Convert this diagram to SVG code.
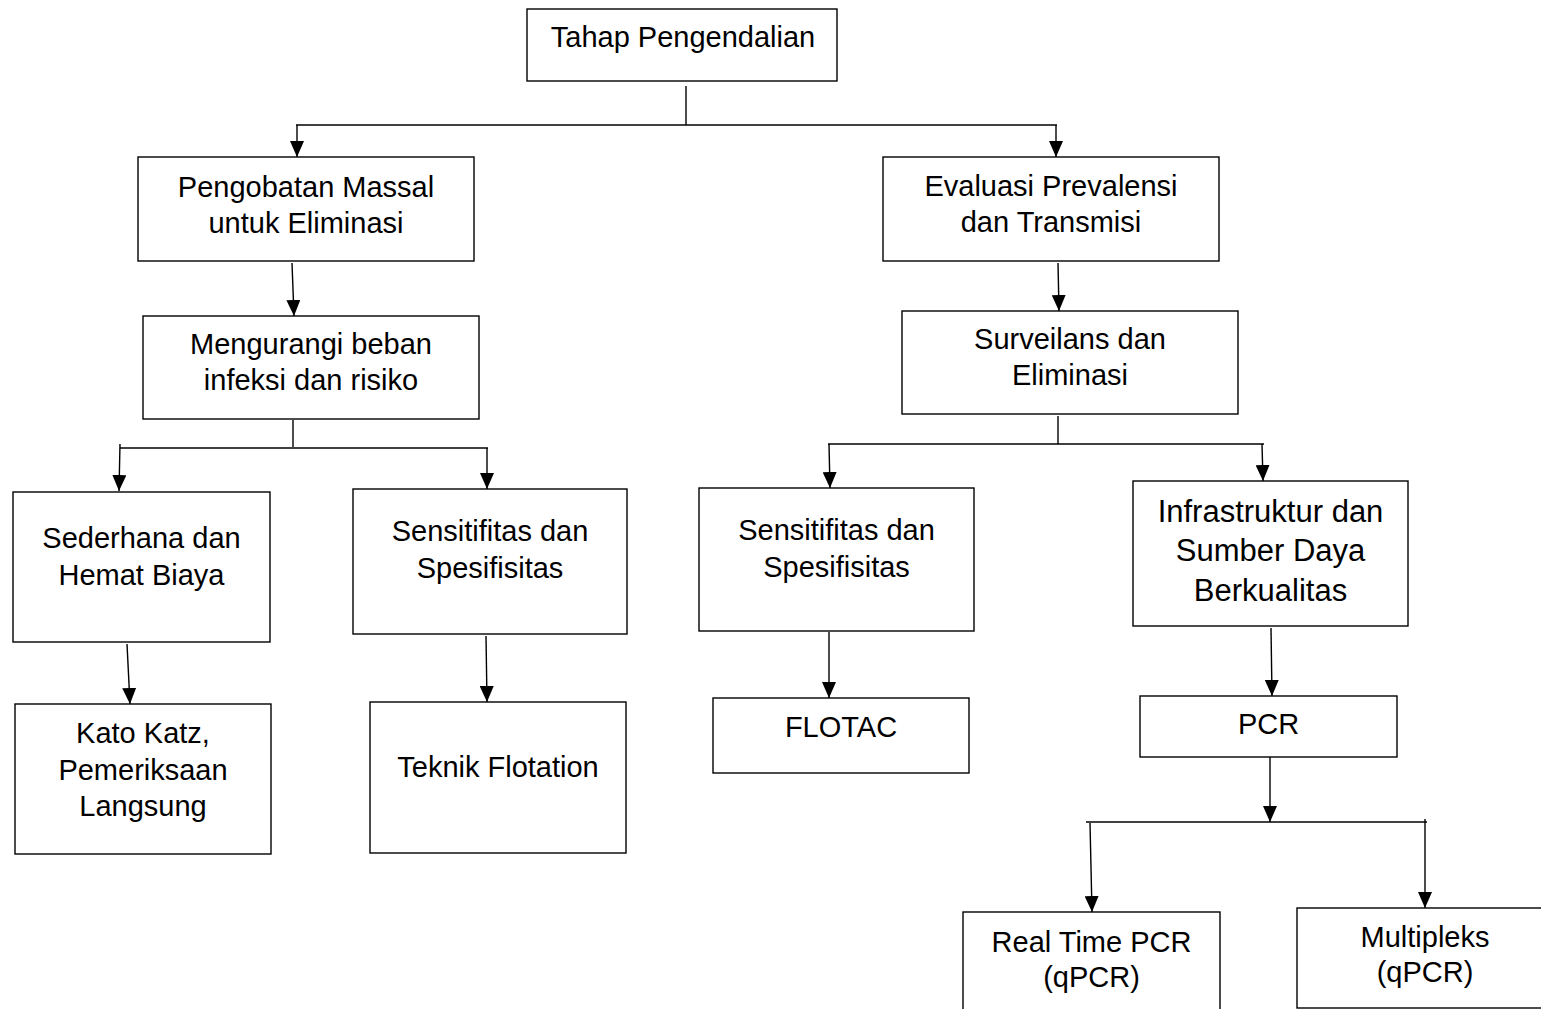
<svg xmlns="http://www.w3.org/2000/svg" width="1541" height="1009" viewBox="0 0 1541 1009">
<style>
.box{fill:#fff;stroke:#000;stroke-width:1.4}
.t{font-family:"Liberation Sans",Arial,sans-serif;font-size:29px;fill:#000;text-anchor:middle}
.t31{font-size:31px}
.c{fill:none;stroke:#000;stroke-width:1.4}
</style>
<defs>
<marker id="ah" markerUnits="userSpaceOnUse" markerWidth="16" markerHeight="14" refX="16" refY="7" orient="auto" viewBox="0 0 16 14">
<path d="M0,0 L16,7 L0,14 z" fill="#000"/>
</marker>
</defs>
<rect width="1541" height="1009" fill="#fff"/>
<g id="connectors">
<path class="c" d="M686,86 V125"/>
<path class="c" d="M296,125 H1057"/>
<path class="c" d="M297,125 V157" marker-end="url(#ah)"/>
<path class="c" d="M1056,125 V157" marker-end="url(#ah)"/>
<path class="c" d="M292,263 L294,316" marker-end="url(#ah)"/>
<path class="c" d="M1058,263 L1059,311" marker-end="url(#ah)"/>
<path class="c" d="M293,420 V447"/>
<path class="c" d="M120,448 H488"/>
<path class="c" d="M120,444 L119,491" marker-end="url(#ah)"/>
<path class="c" d="M487,448 V489" marker-end="url(#ah)"/>
<path class="c" d="M1058,416 V444"/>
<path class="c" d="M828,444 H1264"/>
<path class="c" d="M829,444 L830,488" marker-end="url(#ah)"/>
<path class="c" d="M1262,444 L1263,481" marker-end="url(#ah)"/>
<path class="c" d="M127,644 L130,704" marker-end="url(#ah)"/>
<path class="c" d="M486,636 L487,702" marker-end="url(#ah)"/>
<path class="c" d="M829,632 V698" marker-end="url(#ah)"/>
<path class="c" d="M1271,628 L1272,696" marker-end="url(#ah)"/>
<path class="c" d="M1270,757 V822" marker-end="url(#ah)"/>
<path class="c" d="M1086,822 H1427"/>
<path class="c" d="M1090,823 L1092,912" marker-end="url(#ah)"/>
<path class="c" d="M1425,819 V908" marker-end="url(#ah)"/>
</g>
<g id="n-tahap">
<rect class="box" x="527" y="9" width="310" height="72"/>
<text class="t" x="683" y="47">Tahap Pengendalian</text>
</g>
<g id="n-pengobatan">
<rect class="box" x="138" y="157" width="336" height="104"/>
<text class="t" x="306" y="197">Pengobatan Massal</text>
<text class="t" x="306" y="233">untuk Eliminasi</text>
</g>
<g id="n-evaluasi">
<rect class="box" x="883" y="157" width="336" height="104"/>
<text class="t" x="1051" y="196">Evaluasi Prevalensi</text>
<text class="t" x="1051" y="232">dan Transmisi</text>
</g>
<g id="n-mengurangi">
<rect class="box" x="143" y="316" width="336" height="103"/>
<text class="t" x="311" y="354">Mengurangi beban</text>
<text class="t" x="311" y="390">infeksi dan risiko</text>
</g>
<g id="n-surveilans">
<rect class="box" x="902" y="311" width="336" height="103"/>
<text class="t" x="1070" y="349">Surveilans dan</text>
<text class="t" x="1070" y="385">Eliminasi</text>
</g>
<g id="n-sederhana">
<rect class="box" x="13" y="492" width="257" height="150"/>
<text class="t" x="141.5" y="548">Sederhana dan</text>
<text class="t" x="141.5" y="585">Hemat Biaya</text>
</g>
<g id="n-sens-left">
<rect class="box" x="353" y="489" width="274" height="145"/>
<text class="t" x="490" y="541">Sensitifitas dan</text>
<text class="t" x="490" y="578">Spesifisitas</text>
</g>
<g id="n-sens-right">
<rect class="box" x="699" y="488" width="275" height="143"/>
<text class="t" x="836.5" y="540">Sensitifitas dan</text>
<text class="t" x="836.5" y="577">Spesifisitas</text>
</g>
<g id="n-infra">
<rect class="box" x="1133" y="481" width="275" height="145"/>
<text class="t t31" x="1270.5" y="522">Infrastruktur dan</text>
<text class="t t31" x="1270.5" y="561">Sumber Daya</text>
<text class="t t31" x="1270.5" y="601">Berkualitas</text>
</g>
<g id="n-kato">
<rect class="box" x="15" y="704" width="256" height="150"/>
<text class="t" x="143" y="743">Kato Katz,</text>
<text class="t" x="143" y="780">Pemeriksaan</text>
<text class="t" x="143" y="816">Langsung</text>
</g>
<g id="n-teknik">
<rect class="box" x="370" y="702" width="256" height="151"/>
<text class="t" x="498" y="777">Teknik Flotation</text>
</g>
<g id="n-flotac">
<rect class="box" x="713" y="698" width="256" height="75"/>
<text class="t" x="841" y="737">FLOTAC</text>
</g>
<g id="n-pcr">
<rect class="box" x="1140" y="696" width="257" height="61"/>
<text class="t" x="1268.5" y="734">PCR</text>
</g>
<g id="n-realtime">
<rect class="box" x="963" y="912" width="257" height="110"/>
<text class="t" x="1091.5" y="952">Real Time PCR</text>
<text class="t" x="1091.5" y="987">(qPCR)</text>
</g>
<g id="n-multipleks">
<rect class="box" x="1297" y="908" width="256" height="100"/>
<text class="t" x="1425" y="947">Multipleks</text>
<text class="t" x="1425" y="982">(qPCR)</text>
</g>
</svg>
